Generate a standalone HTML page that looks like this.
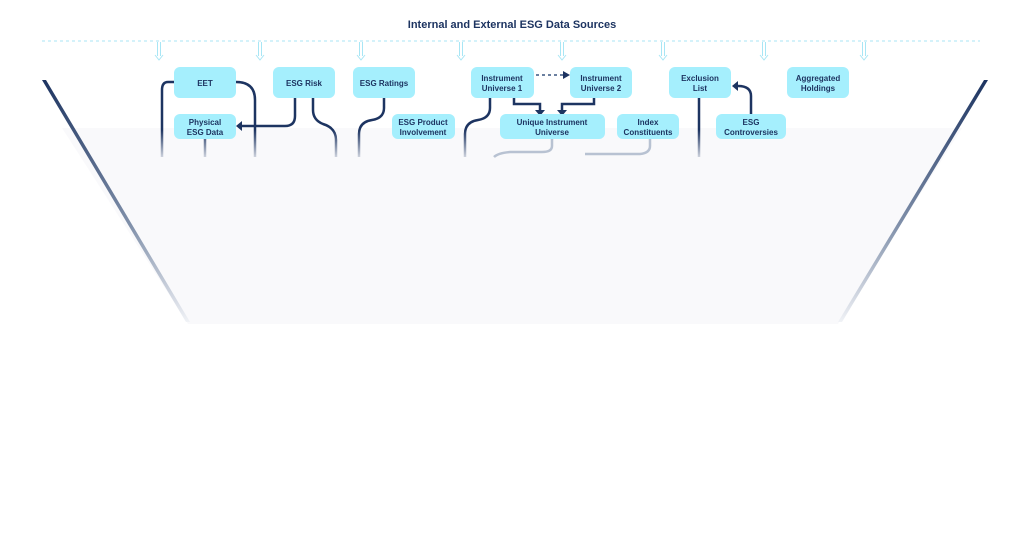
<!DOCTYPE html>
<html><head><meta charset="utf-8"><style>
html,body{margin:0;padding:0;background:#fff;}
svg{display:block;}
text{font-family:"Liberation Sans",sans-serif;font-weight:bold;fill:#1d3461;}
</style></head><body>
<svg width="1024" height="544" viewBox="0 0 1024 544" xmlns="http://www.w3.org/2000/svg">
<defs>
<linearGradient id="dl" x1="0" y1="0" x2="0" y2="1">
<stop offset="0" stop-color="#1d3461"/><stop offset="0.6" stop-color="#8090aa"/><stop offset="1" stop-color="#f0f2f6"/>
</linearGradient>
<linearGradient id="fade" gradientUnits="userSpaceOnUse" x1="0" y1="130" x2="0" y2="157">
<stop offset="0" stop-color="#1d3461"/><stop offset="1" stop-color="#1d3461" stop-opacity="0.2"/>
</linearGradient>
</defs>
<polygon points="62,128 962,128 838,324 188,324" fill="#f9f9fb"/>
<polygon points="42,80 46,80 190,322 186,322" fill="url(#dl)"/>
<polygon points="984,80 988,80 842,322 838,322" fill="url(#dl)"/>
<text x="512" y="28" text-anchor="middle" font-size="11">Internal and External ESG Data Sources</text>
<line x1="42" y1="41" x2="980" y2="41" stroke="#a8e6f5" stroke-width="1" stroke-dasharray="3,3"/>
<g stroke="#a8e6f5" stroke-width="1" fill="none">
<path d="M157.5 42V56M160.5 42V56M155 55L159 60L163 55"/>
<path d="M258.5 42V56M261.5 42V56M256 55L260 60L264 55"/>
<path d="M359.5 42V56M362.5 42V56M357 55L361 60L365 55"/>
<path d="M459.5 42V56M462.5 42V56M457 55L461 60L465 55"/>
<path d="M560.5 42V56M563.5 42V56M558 55L562 60L566 55"/>
<path d="M661.5 42V56M664.5 42V56M659 55L663 60L667 55"/>
<path d="M762.5 42V56M765.5 42V56M760 55L764 60L768 55"/>
<path d="M862.5 42V56M865.5 42V56M860 55L864 60L868 55"/>
</g>
<g stroke="url(#fade)" stroke-width="2.5" fill="none">
<path d="M174 82H168Q162 82 162 90V157"/>
<path d="M236 82Q255 82 255 100V157"/>
<path d="M205 139V157"/>
<path d="M295 98V116Q295 126 285 126H240"/>
<path d="M313 98V110Q313 120 323 124Q336 128 336 140V157"/>
<path d="M384 98V108Q384 118 372 120Q359 122 359 134V157"/>
<path d="M490 98V108Q490 118 478 120Q465 122 465 134V157"/>
<path d="M552 139V146Q552 152 542 152H510Q498 153 494 157" stroke="#b8c2d2"/>
<path d="M650 139V146Q650 153 640 154H585" stroke="#b8c2d2"/>
<path d="M699 98V157"/>
<path d="M751 114V96Q751 86 738 86"/>
<path d="M514 98V104H540V112"/>
<path d="M594 98V104H562V112"/>
</g>
<path d="M536 75H563" stroke="#3a5680" stroke-width="1.5" stroke-dasharray="3,3"/>
<g fill="#1d3461">
<path d="M563 71L570 75L563 79Z"/>
<path d="M535 110L540 116L545 110Z"/>
<path d="M557 110L562 116L567 110Z"/>
<path d="M242 121L236 126L242 131Z"/>
<path d="M738 81L732 86L738 91Z"/>
</g>
<g fill="#a5effd">
<rect x="174" y="67" width="62" height="31" rx="6"/>
<rect x="273" y="67" width="62" height="31" rx="6"/>
<rect x="353" y="67" width="62" height="31" rx="6"/>
<rect x="471" y="67" width="63" height="31" rx="6"/>
<rect x="570" y="67" width="62" height="31" rx="6"/>
<rect x="669" y="67" width="62" height="31" rx="6"/>
<rect x="787" y="67" width="62" height="31" rx="6"/>
<rect x="174" y="114" width="62" height="25" rx="6"/>
<rect x="392" y="114" width="63" height="25" rx="6"/>
<rect x="500" y="114" width="105" height="25" rx="6"/>
<rect x="617" y="114" width="62" height="25" rx="6"/>
<rect x="716" y="114" width="70" height="25" rx="6"/>
</g>
<g font-size="8" text-anchor="middle">
<text x="205" y="86">EET</text>
<text x="304" y="86">ESG Risk</text>
<text x="384" y="86">ESG Ratings</text>
<text x="502" y="81">Instrument</text><text x="502" y="91">Universe 1</text>
<text x="601" y="81">Instrument</text><text x="601" y="91">Universe 2</text>
<text x="700" y="81">Exclusion</text><text x="700" y="91">List</text>
<text x="818" y="81">Aggregated</text><text x="818" y="91">Holdings</text>
<text x="205" y="125">Physical</text><text x="205" y="135">ESG Data</text>
<text x="423" y="125">ESG Product</text><text x="423" y="135">Involvement</text>
<text x="552" y="125">Unique Instrument</text><text x="552" y="135">Universe</text>
<text x="648" y="125">Index</text><text x="648" y="135">Constituents</text>
<text x="751" y="125">ESG</text><text x="751" y="135">Controversies</text>
</g>
</svg>
</body></html>
